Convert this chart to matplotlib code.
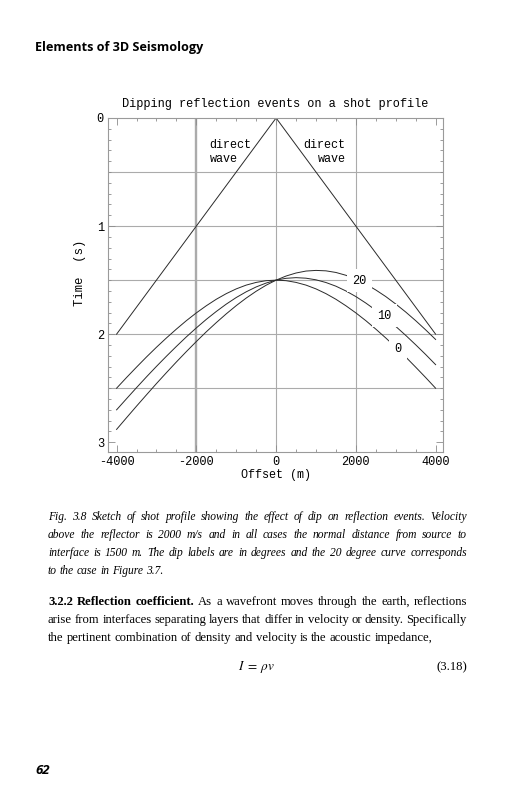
import numpy as np
import matplotlib
matplotlib.use('Agg')
import matplotlib.pyplot as plt
from matplotlib.ticker import MultipleLocator

W, H = 531, 800
mono = 'Liberation Mono'
serif = 'Liberation Serif'

# offsets (m) and travel times (s)
offset = [-4000, -3750, -3500, -3250, -3000, -2750, -2500, -2250, -2000,
          -1750, -1500, -1250, -1000, -750, -500, -250, 0,
          250, 500, 750, 1000, 1250, 1500, 1750, 2000,
          2250, 2500, 2750, 3000, 3250, 3500, 3750, 4000]
t_dip0 = [2.500, 2.401, 2.305, 2.211, 2.121, 2.035, 1.953, 1.875, 1.803,
          1.737, 1.677, 1.625, 1.581, 1.546, 1.521, 1.505, 1.500,
          1.505, 1.521, 1.546, 1.581, 1.625, 1.677, 1.737, 1.803,
          1.875, 1.953, 2.035, 2.121, 2.211, 2.305, 2.401, 2.500]
t_dip10 = [2.700, 2.597, 2.495, 2.395, 2.298, 2.204, 2.113, 2.025, 1.942,
           1.863, 1.790, 1.722, 1.661, 1.608, 1.563, 1.527, 1.500,
           1.483, 1.477, 1.482, 1.497, 1.522, 1.556, 1.600, 1.652,
           1.712, 1.778, 1.850, 1.928, 2.011, 2.098, 2.188, 2.282]
t_dip20 = [2.881, 2.773, 2.666, 2.561, 2.457, 2.356, 2.257, 2.161, 2.068,
           1.978, 1.893, 1.812, 1.736, 1.666, 1.603, 1.547, 1.500,
           1.462, 1.434, 1.416, 1.410, 1.414, 1.429, 1.455, 1.491,
           1.537, 1.591, 1.652, 1.721, 1.795, 1.875, 1.960, 2.049]
direct_x = [-4000, 0, 4000]
direct_t = [2.0, 0.0, 2.0]

dip_labels = ['20', '10', '0']
dip_label_x = [2097, 2716, 3059]
dip_label_t = [1.505, 1.828, 2.133]

x_ticks = [-4000, -2000, 0, 2000, 4000]
y_ticks = [0, 1, 2, 3]
x_grid = [-2000, 0, 2000]
y_grid = [0.5, 1.0, 1.5, 2.0, 2.5]

caption = [
    "Fig. 3.8 Sketch of shot profile showing the effect of dip on reflection events. Velocity",
    "above the reflector is 2000 m/s and in all cases the normal distance from source to",
    "interface is 1500 m. The dip labels are in degrees and the 20 degree curve corresponds",
    "to the case in Figure 3.7.",
]
body = [
    "3.2.2 Reflection coefficient. As a wavefront moves through the earth, reflections",
    "arise from interfaces separating layers that differ in velocity or density. Specifically",
    "the pertinent combination of density and velocity is the acoustic impedance,",
]

fig = plt.figure(figsize=(W / 100, H / 100), dpi=100)
fig.patch.set_facecolor('white')

def fx(px):
    return px / W

def fy(py):
    return 1 - py / H

ax = fig.add_axes([fx(108), fy(452), fx(443 - 108), (452 - 118) / H])
ax.set_xlim(-4215, 4185)
ax.set_ylim(3.09, 0)

gridc = '#ababab'
for g in x_grid:
    ax.axvline(g, color=gridc, lw=1.7 if g == -2000 else 0.8, zorder=1)
for g in y_grid:
    ax.axhline(g, color=gridc, lw=0.8, zorder=1)

linec = '#2a2a2a'
ax.plot(direct_x, direct_t, color=linec, lw=0.7, zorder=2)
for t in (t_dip0, t_dip10, t_dip20):
    ax.plot(offset, t, color=linec, lw=0.7, zorder=2)

for lab, x, t in zip(dip_labels, dip_label_x, dip_label_t):
    ax.text(x, t, lab, ha='center', va='center', fontsize=8.6, family=mono,
            zorder=5, bbox=dict(boxstyle='square,pad=0.45', fc='white', ec='none'))

ax.text(-1665, 0.312, 'direct\nwave', ha='left', va='center', fontsize=8.5,
        family=mono, multialignment='left', linespacing=1.25)
ax.text(1738, 0.312, 'direct\nwave', ha='right', va='center', fontsize=8.5,
        family=mono, multialignment='right', linespacing=1.25)

ax.set_xticks(x_ticks)
ax.set_xticklabels([str(v) for v in x_ticks])
ax.set_yticks(y_ticks)
ax.set_yticklabels([str(v) for v in y_ticks])
ax.xaxis.set_minor_locator(MultipleLocator(500))
ax.yaxis.set_minor_locator(MultipleLocator(0.1))
ax.tick_params(which='both', direction='in', top=True, right=True,
               color='#8c8c8c', width=0.6, labelsize=8.6)
ax.tick_params(which='major', length=5, pad=3)
ax.tick_params(which='minor', length=2.5)
for lab in ax.get_xticklabels() + ax.get_yticklabels():
    lab.set_family(mono)
for s in ax.spines.values():
    s.set_color('#9a9a9a')
    s.set_linewidth(0.8)

fig.text(fx(275.5), fy(104), 'Dipping reflection events on a shot profile',
         ha='center', va='center', fontsize=8.6, family=mono)
fig.text(fx(275.7), fy(475), 'Offset (m)', ha='center', va='center',
         fontsize=8.5, family=mono)
fig.text(fx(80), fy(273), 'Time  (s)', ha='center', va='center',
         fontsize=8.8, family=mono, rotation=90)

# page furniture
fig.text(fx(35), fy(48), 'Elements of 3D Seismology', ha='left', va='center',
         fontsize=9.1, family='Open Sans', weight='bold')
fig.text(fx(35), fy(771), '62', ha='left', va='center', fontsize=9.5,
         family='Open Sans', weight='bold', style='italic')

renderer = fig.canvas.get_renderer()

def justify(line, y, x0, x1, full=True, bold_n=0, **kw):
    words = line.split(' ')
    items = []
    for i, w in enumerate(words):
        t = fig.text(0, fy(y), w, va='baseline', ha='left',
                     weight='bold' if i < bold_n else 'normal', **kw)
        items.append(t)
    widths = [t.get_window_extent(renderer).width for t in items]
    sp = fig.text(0, 0, 'a a', **kw)
    sp2 = fig.text(0, 0, 'aa', **kw)
    space = sp.get_window_extent(renderer).width - sp2.get_window_extent(renderer).width
    sp.remove()
    sp2.remove()
    gap = (x1 - x0 - sum(widths)) / (len(words) - 1) if full else space
    x = x0
    for t, w in zip(items, widths):
        t.set_x(fx(x))
        x += w + gap

cap_y = [520, 538, 556, 574]
for i, (line, y) in enumerate(zip(caption, cap_y)):
    justify(line, y, 48, 467, full=i < len(caption) - 1,
            family=serif, style='italic', fontsize=8.3, color='black')

body_y = [605, 623, 641]
for i, (line, y) in enumerate(zip(body, body_y)):
    justify(line, y, 48, 467, full=i < len(body) - 1, bold_n=3 if i == 0 else 0,
            family=serif, fontsize=9.1, color='black')

plt.rcParams['mathtext.fontset'] = 'stix'
fig.text(fx(257), fy(667), r'$I\;=\;\rho v$', ha='center', va='center', fontsize=9.5)
fig.text(fx(467), fy(667), '(3.18)', ha='right', va='center', fontsize=9.1,
         family=serif)

fig.savefig('out.png', dpi=100)
